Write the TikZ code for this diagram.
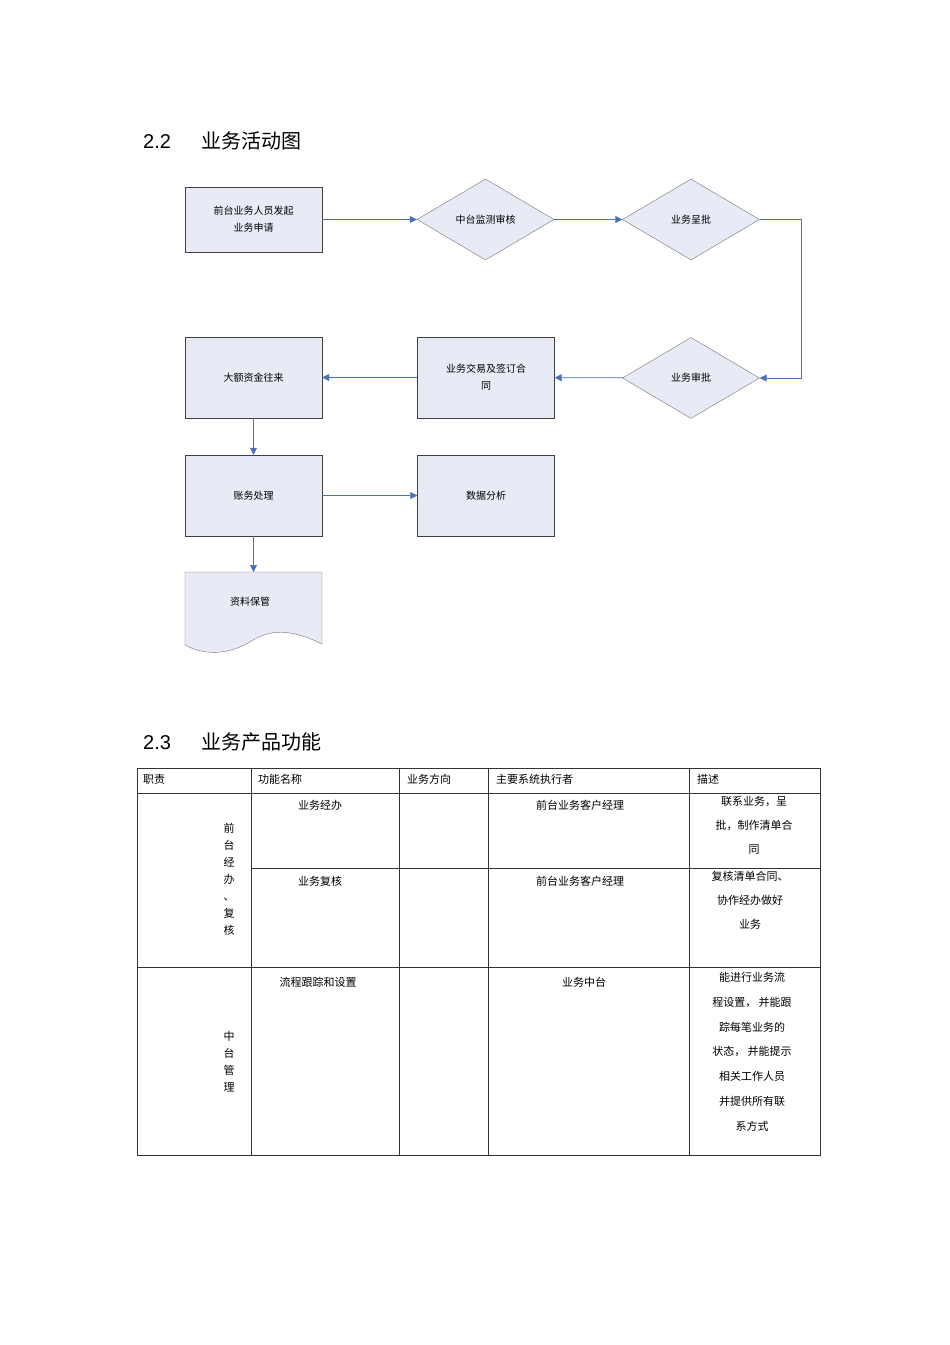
\documentclass[tikz,border=0pt]{standalone}
\usepackage{fontspec}
\setmainfont{Liberation Sans}
\newfontfamily\cjk{Noto Sans CJK SC}
\usetikzlibrary{shapes.geometric,arrows.meta}
\definecolor{boxfill}{HTML}{E8EBF6}
\definecolor{arr}{HTML}{4A70B8}
\begin{document}
\begin{tikzpicture}[x=1pt,y=-1pt,
  bx/.style={draw=black!75,fill=boxfill,minimum width=137pt,minimum height=81pt,align=center,font=\cjk\fontsize{10}{17}\selectfont,inner sep=0},
  dm/.style={diamond,draw=black!55,fill=boxfill,minimum width=137pt,minimum height=81pt,aspect=1.7,inner sep=0,font=\cjk\fontsize{10}{14}\selectfont},
  ar/.style={draw=arr,-{Triangle[length=7pt,width=7pt]},line width=0.7pt},
  tt/.style={font=\cjk\fontsize{11}{14}\selectfont,inner sep=0},
  hd/.style={font=\fontsize{20}{24}\selectfont,anchor=west,inner sep=0}]
\useasboundingbox (0,0) rectangle (950,1345);
\node[hd] (h1) at (143,141) {2.2\hspace{30pt}{\cjk 业务活动图}};
\node[bx,minimum height=65pt] (b1) at (253.5,219.5) {前台业务人员发起\\业务申请};
\node[dm] (d1) at (485.5,219.5) {中台监测审核};
\node[dm] (d2) at (691,219.5) {业务呈批};
\node[dm] (d3) at (691,378) {业务审批};
\node[bx] (b2) at (486,377.5) {业务交易及签订合\\同};
\node[bx] (b3) at (253.5,377.5) {大额资金往来};
\node[bx] (b4) at (253.5,495.5) {账务处理};
\node[bx] (b5) at (486,495.5) {数据分析};
\draw[draw=black!55,fill=boxfill] (185,572) -- (322,572) -- (322,644) .. controls (290,628) and (270,630) .. (253,640) .. controls (230,655) and (205,656) .. (185,645) -- cycle;
\node[tt,font=\cjk\fontsize{10}{14}\selectfont] (b6) at (250,602) {资料保管};
\coordinate (c1) at (801,219.5);
\coordinate (c2) at (801,378);
\coordinate (b6t) at (253.5,572);
\draw[ar] (b1) -- (d1);
\draw[ar] (d1) -- (d2);
\draw[ar] (d2.east) -- (c1) -- (c2) -- (d3.east);
\draw[ar] (d3) -- (b2);
\draw[ar] (b2) -- (b3);
\draw[ar] (b3) -- (b4);
\draw[ar] (b4) -- (b5);
\draw[ar] (b4) -- (b6t);
\node[hd] (h2) at (143,742) {2.3\hspace{30pt}{\cjk 业务产品功能}};
% table
\draw[black!80,line width=0.6pt] (137,768) rectangle (820,1155);
\draw[black!80,line width=0.6pt] (137,793) -- (820,793) (251,868) -- (820,868) (137,967) -- (820,967);
\foreach \x in {251,399,488,689} \draw[black!80,line width=0.6pt] (\x,768) -- (\x,1155);
\node[tt,anchor=west] (t1) at (143,779) {职责};
\node[tt,anchor=west] (t2) at (258,779) {功能名称};
\node[tt,anchor=west] (t3) at (407,779) {业务方向};
\node[tt,anchor=west] (t4) at (496,779) {主要系统执行者};
\node[tt,anchor=west] (t5) at (697,779) {描述};
\node[tt,align=center,font=\cjk\fontsize{11}{17}\selectfont] (v1) at (229,879) {前\\台\\经\\办\\、\\复\\核};
\node[tt,align=center,font=\cjk\fontsize{11}{17}\selectfont] (v2) at (229,1062) {中\\台\\管\\理};
\node[tt] (r1) at (320,805) {业务经办};
\node[tt] (r2) at (320,881) {业务复核};
\node[tt] (r3) at (318,982) {流程跟踪和设置};
\node[tt] (r4) at (580,805) {前台业务客户经理};
\node[tt] (r5) at (580,881) {前台业务客户经理};
\node[tt] (r6) at (584,982) {业务中台};
\node[tt,align=center,font=\cjk\fontsize{11}{24}\selectfont,anchor=north] (r7) at (754,796) {联系业务，呈\\批，制作清单合\\同};
\node[tt,align=center,font=\cjk\fontsize{11}{24}\selectfont,anchor=north] (r8) at (750,871) {复核清单合同、\\协作经办做好\\业务};
\node[tt,align=center,font=\cjk\fontsize{11}{24.8}\selectfont,anchor=north] (r9) at (752,972) {能进行业务流\\程设置，\ 并能跟\\踪每笔业务的\\状态，\ 并能提示\\相关工作人员\\并提供所有联\\系方式};
\end{tikzpicture}
\end{document}
